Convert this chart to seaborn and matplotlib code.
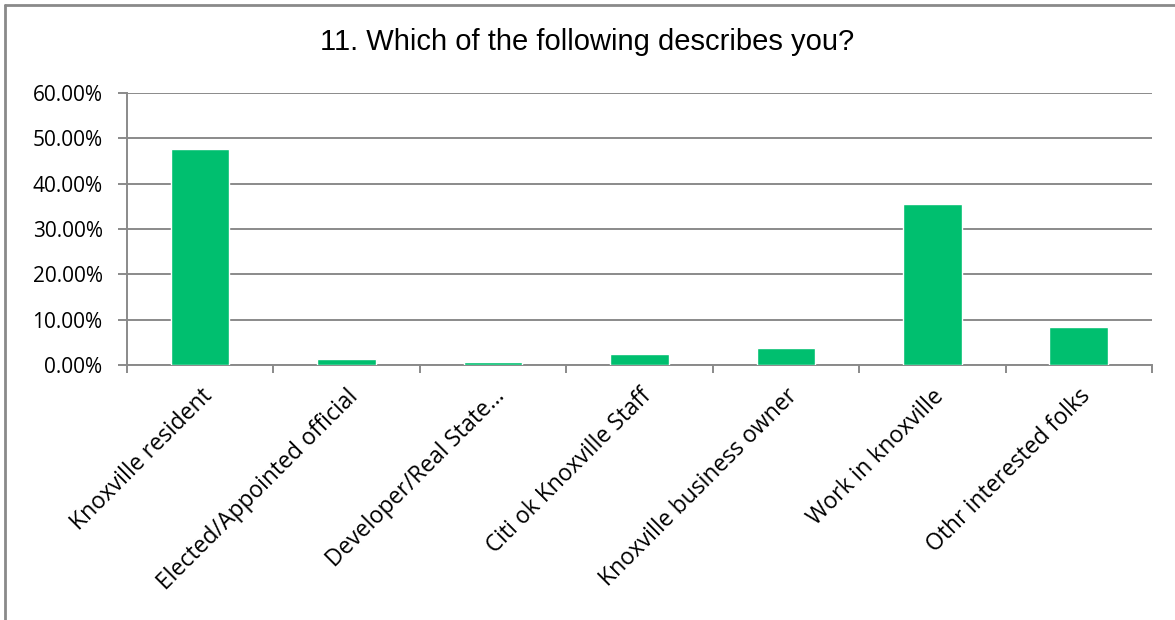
import numpy as np
import pandas as pd
import seaborn as sns
import matplotlib
matplotlib.use('Agg')
from matplotlib import pyplot as plt
from matplotlib.lines import Line2D
from matplotlib.ticker import PercentFormatter, FixedLocator

categorias = ['Knoxville resident', 'Elected/Appointed official', 'Developer/Real State...',
              'Citi ok Knoxville Staff', 'Knoxville business owner', 'Work in knoxville',
              'Othr interested folks']
porcentajes = [47.7, 1.3, 0.7, 2.4, 3.7, 35.5, 8.4]
titulo = '11. Which of the following describes you?'

df_ = pd.DataFrame({'categoria': categorias, 'pct': porcentajes})

sns.set_style('white')
plt.rcParams['font.family'] = ['Open Sans', 'DejaVu Sans']
plt.rcParams['text.color'] = 'black'

gris = '#8a8a8a'
fig = plt.figure(figsize=(11.75, 6.2), dpi=100)
ax = fig.add_axes([0.108, 0.4113, 0.8724, 0.4387])

sns.barplot(x='categoria', y='pct', data=df_, color='#00BF6F', width=0.4,
            saturation=1, ax=ax, zorder=3)

ax.set_xlim(-0.5, 6.5)
ax.set_ylim(0, 60)
ax.yaxis.set_major_locator(FixedLocator(np.arange(0, 61, 10)))
ax.yaxis.set_major_formatter(PercentFormatter(decimals=2))
ax.grid(axis='y', color=gris, linewidth=1.4, zorder=0)
ax.set_axisbelow(True)

# marcas del eje x entre categorias
ax.set_xticks(np.arange(-0.5, 7, 1), minor=True)
ax.tick_params(axis='x', which='minor', length=6, width=1.4, color=gris, bottom=True)
ax.tick_params(axis='x', which='major', length=0, pad=14, labelsize=16.5, labelcolor='black')
ax.tick_params(axis='y', which='major', length=6.5, width=1.4, color=gris, left=True,
               pad=11, labelsize=15, labelcolor='black')
plt.setp(ax.get_xticklabels(), rotation=45, ha='right', rotation_mode='anchor')

for lado in ['top', 'right']:
    ax.spines[lado].set_visible(False)
for lado in ['left', 'bottom']:
    ax.spines[lado].set_color(gris)
    ax.spines[lado].set_linewidth(1.4)

ax.set_xlabel('')
ax.set_ylabel('')

fig.suptitle(titulo, x=0.5, y=0.932, va='center', fontsize=21, family='Liberation Sans',
             color='black')

# borde del grafico
fig.add_artist(Line2D([5 / 1175, 5 / 1175], [0, 1 - 5 / 620], transform=fig.transFigure,
                      color=gris, linewidth=2))
fig.add_artist(Line2D([5 / 1175, 1], [1 - 5 / 620, 1 - 5 / 620], transform=fig.transFigure,
                      color=gris, linewidth=2))

fig.savefig('out.png', dpi=100)
